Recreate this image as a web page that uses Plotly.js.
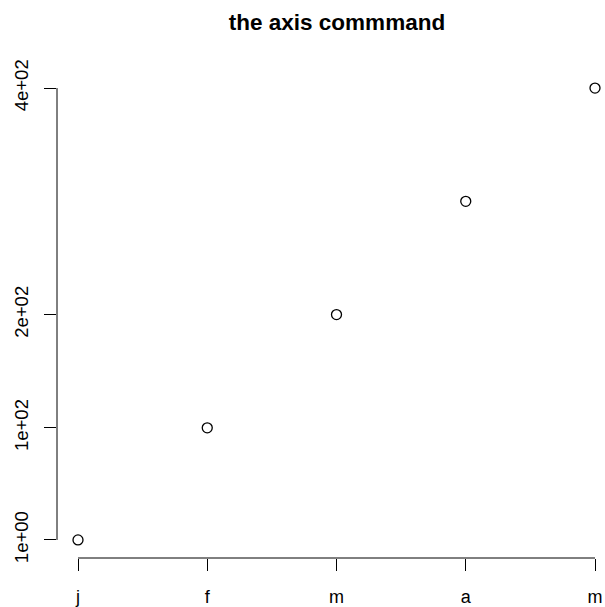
<!DOCTYPE html>
<html>
<head>
<meta charset="utf-8">
<script src="https://cdn.plot.ly/plotly-3.0.1.min.js"></script>
<style>html,body{margin:0;padding:0;background:#fff;}</style>
</head>
<body>
<div id="chart" style="width:605px;height:607px;"></div>
<script>
var xValues = [1, 2, 3, 4, 5];
var yValues = [1, 100, 200, 300, 400];
var xTickLabels = ['j', 'f', 'm', 'a', 'm'];
var yTickVals = [1, 100, 200, 400];
var yTickLabels = ['1e+00', '1e+02', '2e+02', '4e+02'];

var font = 'Liberation Sans, Arial, sans-serif';

var trace = {
  x: xValues,
  y: yValues,
  mode: 'markers',
  type: 'scatter',
  marker: {symbol: 'circle-open', size: 10, color: '#000', line: {color: '#000', width: 1.3}},
  hoverinfo: 'none'
};

var layout = {
  width: 605,
  height: 607,
  margin: {l: 57, r: 0, t: 70, b: 49, pad: 0},
  paper_bgcolor: '#fff',
  plot_bgcolor: '#fff',
  showlegend: false,
  font: {family: font, size: 18, color: '#000'},
  title: {
    text: '<b>the axis commmand</b>',
    font: {family: font, size: 22.5, color: '#000'},
    x: 0.557, xanchor: 'center',
    y: 1 - 22 / 607, yref: 'container', yanchor: 'middle'
  },
  xaxis: {
    range: [0.8375, 5.0774],
    tickmode: 'array',
    tickvals: xValues,
    ticktext: xTickLabels,
    ticks: 'outside', ticklen: 12, tickwidth: 1, tickcolor: '#000',
    ticklabelstandoff: 10,
    showgrid: false, zeroline: false, showline: false,
    tickfont: {family: font, size: 18, color: '#000'},
    fixedrange: true
  },
  yaxis: {
    range: [-14.96, 415.96],
    tickmode: 'array',
    tickvals: yTickVals,
    ticktext: yTickLabels,
    tickangle: -90,
    ticks: 'outside', ticklen: 12, tickwidth: 1, tickcolor: '#000',
    ticklabelstandoff: 9,
    showgrid: false, zeroline: false, showline: false,
    tickfont: {family: font, size: 18.5, color: '#000'},
    fixedrange: true
  },
  shapes: [
    {type: 'line', xref: 'x', yref: 'paper', x0: xValues[0], x1: xValues[xValues.length - 1], y0: 0, y1: 0,
     line: {color: '#000', width: 1}},
    {type: 'line', xref: 'paper', yref: 'y', x0: 0, x1: 0, y0: yTickVals[0], y1: yTickVals[yTickVals.length - 1],
     line: {color: '#000', width: 1}}
  ]
};

Plotly.newPlot('chart', [trace], layout, {displayModeBar: false, staticPlot: true});
</script>
</body>
</html>
